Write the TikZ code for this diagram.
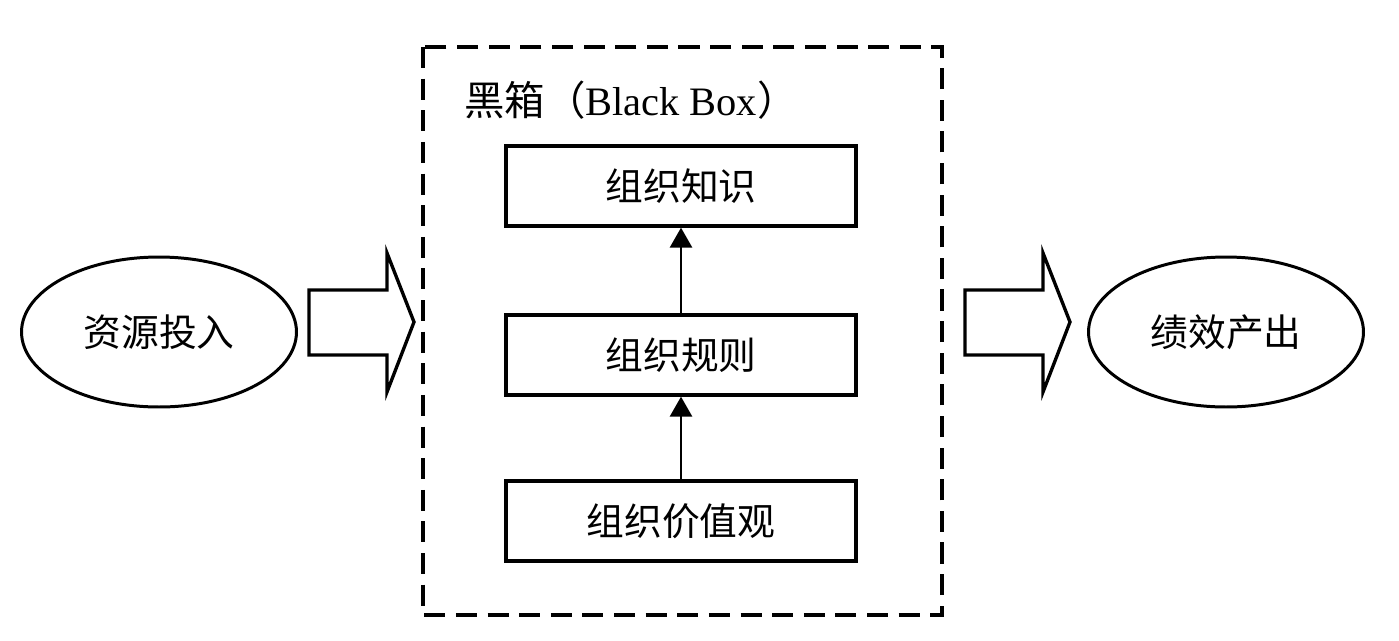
\documentclass[tikz,border=0pt]{standalone}
\usepackage{fontspec}
\setmainfont{Liberation Serif}
\newfontfamily\cjk{Noto Sans CJK SC}
\usetikzlibrary{shapes.geometric,arrows.meta}
\tikzset{
layerbox/.style = {draw, line width = 1.9pt, minimum width = 7cm, minimum height = 1.6cm, inner sep = 0pt, font = \cjk\fontsize{21.5}{25}\selectfont},
endpoint/.style = {draw, ellipse, line width = 1.7pt, minimum width = 5.5cm, minimum height = 3cm, inner sep = 0pt, font = \cjk\fontsize{21.5}{25}\selectfont},
blockarrow/.style = {line width = 1.9pt, line join = miter},
linkarrow/.style = {line width = 1.6pt, -{Triangle[length=0.4cm, width=0.44cm]}},
blackboxline/.style = {line width = 1.9pt, dash pattern = on 12pt off 6pt}}

\begin{document}
\begin{tikzpicture}[x=0.02cm, y=-0.02cm]
%
\useasboundingbox (0,0) rectangle (1399,640);
%
%----------------------------------------------------------------------------------
% black box with its three layers
%
\draw[blackboxline](423,47) rectangle (942,615);
\node at (458,100)[anchor = west, font = \fontsize{23}{27}\selectfont] (title){{\cjk 黑箱（}Black Box{\cjk ）}};
%
\node at (681,186)[layerbox] (knowledge){组织知识};
\node at (681,355)[layerbox] (rules){组织规则};
\node at (681,521)[layerbox] (values){组织价值观};
%
\draw[linkarrow](values)--(rules);
\draw[linkarrow](rules)--(knowledge);
%----------------------------------------------------------------------------------
%
%----------------------------------------------------------------------------------
% input and output
%
\node at (159,332)[endpoint] (input){资源投入};
\node at (1226,332)[endpoint] (output){绩效产出};
%
% block arrows
\draw[blockarrow, shift={(309,0)}](0,290)--(78,290)--(78,253)--(105,322)--(78,392)--(78,355)--(0,355)--cycle;
\draw[blockarrow, shift={(965,0)}](0,290)--(78,290)--(78,253)--(105,322)--(78,392)--(78,355)--(0,355)--cycle;
%----------------------------------------------------------------------------------
%
\end{tikzpicture}
\end{document}
